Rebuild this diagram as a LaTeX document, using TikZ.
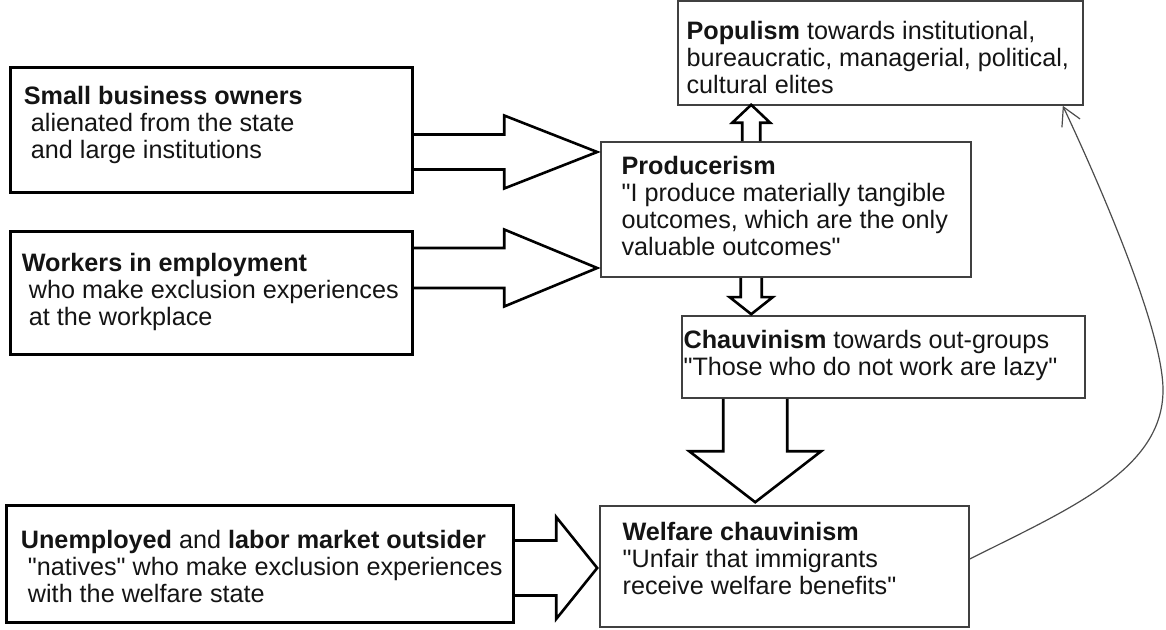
\documentclass[tikz,border=0pt]{standalone}
\usepackage{fontspec}
\setmainfont{Liberation Sans}
\usetikzlibrary{arrows.meta,calc}

\newcommand{\indnt}{\hspace*{.28em}}
\newcommand{\dq}{\textquotedbl}
% block arrow: from, tip, shaft half width, head half width, head length
\newcommand{\blockarrow}[5]{%
	\coordinate (ba-s) at #1;
	\coordinate (ba-t) at #2;
	\coordinate (ba-h) at ($(ba-t)!#5!(ba-s)$);
	\draw [blockarr] ($(ba-s)!#3!90:(ba-t)$) -- ($(ba-h)!#3!90:(ba-t)$) -- ($(ba-h)!#4!90:(ba-t)$) -- (ba-t)
		-- ($(ba-h)!#4!-90:(ba-t)$) -- ($(ba-h)!#3!-90:(ba-t)$) -- ($(ba-s)!#3!-90:(ba-t)$);}

\tikzset{
	boldbox/.style={draw, line width=1.5pt, inner sep=0pt},
	thinbox/.style={draw=black!75, line width=0.8pt, inner sep=0pt},
	boxtext/.style={anchor=west, align=left, inner sep=0pt, text=black!92, font=\fontsize{12.6}{13.5}\selectfont},
	blockarr/.style={line width=1.3pt, line join=miter},
	feedback/.style={draw=black!70, line width=0.6pt, -{Straight Barb[length=9pt,width=10pt]}},
}

\begin{document}
\begin{tikzpicture}[x=0.5pt, y=-0.5pt]
	\useasboundingbox (0,0) rectangle (1166,630);
	% boxes
	\node [boldbox, minimum width=201pt, minimum height=62.5pt] (sbo) at (211,130.5) {};
	\node [boldbox, minimum width=201pt, minimum height=61.5pt] (wrk) at (211,293.5) {};
	\node [boldbox, minimum width=253.5pt, minimum height=58.5pt] (unemp) at (259.5,563.5) {};
	\node [thinbox, minimum width=185pt, minimum height=67.5pt] (prod) at (786,209.5) {};
	\node [thinbox, minimum width=202.5pt, minimum height=52pt] (pop) at (880.5,53) {};
	\node [thinbox, minimum width=201.5pt, minimum height=41pt] (chauv) at (883.5,357) {};
	\node [thinbox, minimum width=184.5pt, minimum height=60.5pt] (welf) at (784.5,566.5) {};
	% texts
	\node [boxtext] (sbo-t) at ([xshift=7.5pt,yshift=3pt]sbo.west)
		{\textbf{Small business owners}\\\indnt alienated from the state\\\indnt and large institutions};
	\node [boxtext] (wrk-t) at ([xshift=6.5pt,yshift=1pt]wrk.west)
		{\textbf{Workers in employment}\\\indnt who make exclusion experiences\\\indnt at the workplace};
	\node [boxtext] (unemp-t) at ([xshift=8pt,yshift=-1.5pt]unemp.west)
		{\textbf{Unemployed} and \textbf{labor market outsider}\\\indnt \dq natives\dq{} who make exclusion experiences\\\indnt with the welfare state};
	\node [boxtext] (prod-t) at ([xshift=10.5pt,yshift=2pt]prod.west)
		{\textbf{Producerism}\\\dq I produce materially tangible\\outcomes, which are the only\\valuable outcomes\dq};
	\node [boxtext] (pop-t) at ([xshift=4.5pt,yshift=-2pt]pop.west)
		{\textbf{Populism} towards institutional,\\bureaucratic, managerial, political,\\cultural elites};
	\node [boxtext] (chauv-t) at ([xshift=1pt,yshift=1pt]chauv.west)
		{\textbf{Chauvinism} towards out-groups\\\dq Those who do not work are lazy\dq};
	\node [boxtext] (welf-t) at ([xshift=11.5pt,yshift=4pt]welf.west)
		{\textbf{Welfare chauvinism}\\\dq Unfair that immigrants\\receive welfare benefits\dq};
	% block arrows
	\coordinate (t1) at ($(prod.west)+(-3,-57.5)$);
	\coordinate (t2) at ($(prod.west)+(-3,58.5)$);
	\coordinate (t3) at ($(welf.west)+(-2,1.5)$);
	\coordinate (t4) at ($(pop.south west)+(74,-1)$);
	\coordinate (t5) at ($(chauv.north west)+(70,-1)$);
	\coordinate (t6) at ($(welf.north west)+(156,-3)$);
	\blockarrow{(sbo.east |- t1)}{(t1)}{8.75pt}{18.25pt}{46.5pt}
	\blockarrow{(wrk.east |- t2)}{(t2)}{10pt}{19.25pt}{46.5pt}
	\blockarrow{(unemp.east |- t3)}{(t3)}{13.75pt}{25.5pt}{20.5pt}
	\blockarrow{(prod.north -| t4)}{(t4)}{4.5pt}{9.5pt}{9pt}
	\blockarrow{(prod.south -| t5)}{(t5)}{5.25pt}{10.75pt}{8.5pt}
	\blockarrow{(chauv.south -| t6)}{(t6)}{16pt}{33pt}{25.5pt}
	% feedback to populism
	\coordinate (bend) at (1163,390);
	\draw [feedback] ($(welf.east)+(0,-7.5)$) .. controls (1069,509) and (1163,470) .. (bend)
		.. controls (1163,330) and (1100,185) .. ($(pop.south east)+(-21,0)$);
\end{tikzpicture}
\end{document}
